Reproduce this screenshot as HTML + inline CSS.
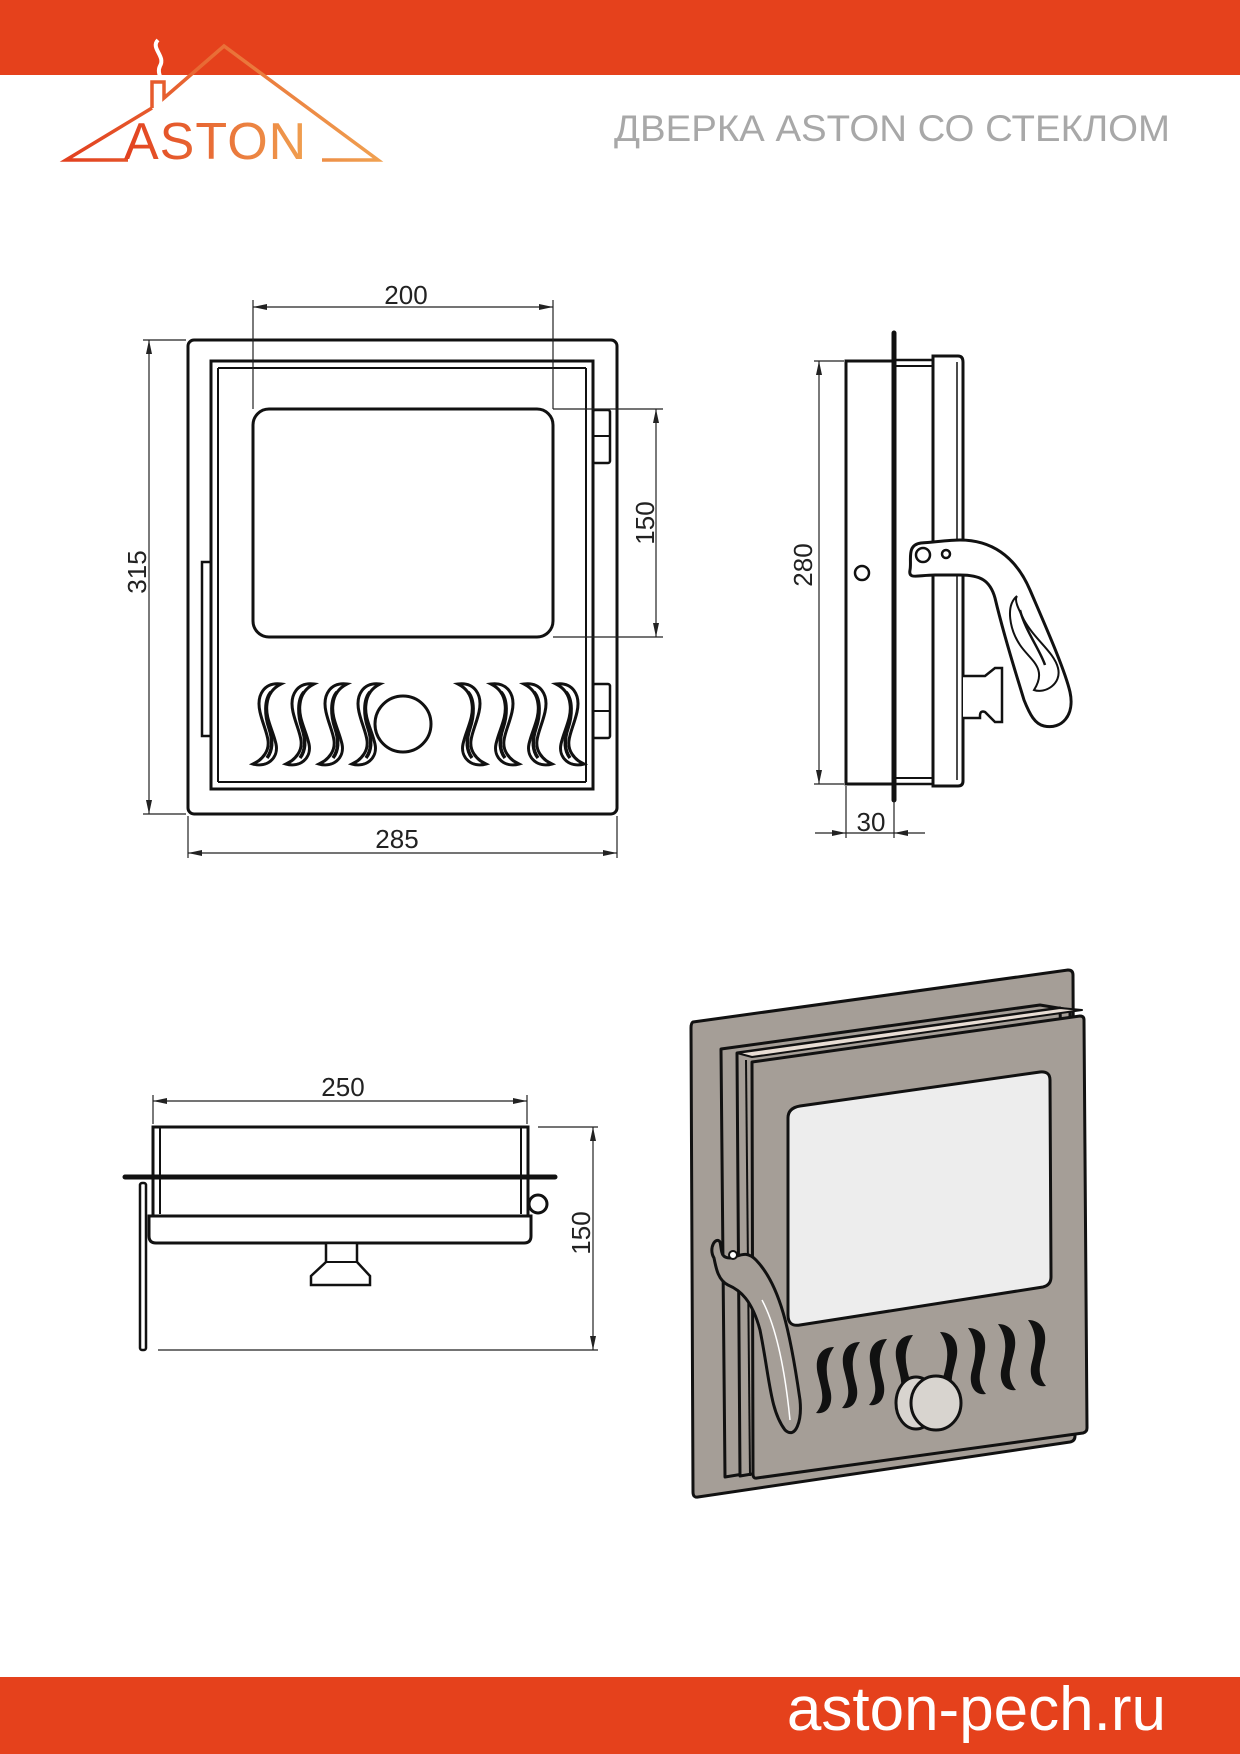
<!DOCTYPE html>
<html><head><meta charset="utf-8"><style>
html,body{margin:0;padding:0;background:#fff}
svg{display:block}
text{font-family:"Liberation Sans",sans-serif}
</style></head><body>
<svg width="1240" height="1754" viewBox="0 0 1240 1754" xmlns="http://www.w3.org/2000/svg">
<defs>
<linearGradient id="lg" x1="0" x2="1" y1="0" y2="0"><stop offset="0" stop-color="#e2401f"/><stop offset="1" stop-color="#f0a050"/></linearGradient>
<g id="fl">
<path d="M28,2 C12,0 3,12 7,30 C11,48 20,60 12,72 C8,78 4,80 0,82 C14,86 26,76 23,62 C20,48 12,36 14,22 C15,12 20,6 28,2 Z" fill="#fff" stroke="#111" stroke-width="3"/>
<path d="M18,10 C11,18 12,34 16,46 C20,58 20,68 14,76" fill="none" stroke="#111" stroke-width="3.5"/>
</g>
<g id="fl3">
<path d="M22,2 C8,2 2,14 6,30 C10,46 14,56 4,68 C16,70 22,58 18,44 C14,30 12,16 22,2 Z" fill="#111"/>
</g>
</defs>

<rect x="0" y="0" width="1240" height="75" fill="#e5411c"/>
<rect x="0" y="1677" width="1240" height="77" fill="#e5411c"/>
<text x="1166" y="1730" font-size="62" fill="#fff" text-anchor="end">aston-pech.ru</text>

<path d="M158,40 C150,48 166,56 160,66 C156,74 164,80 162,88" fill="none" stroke="#fff" stroke-width="4"/>
<path d="M152,108 L152,82 L164,82 L164,98 L224,46 L378,160 L322,160 M128,160 L66,160 L152,108" fill="none" stroke="url(#lg)" stroke-width="3.5"/>
<text x="124" y="159" font-size="52" fill="url(#lg)" letter-spacing="1">ASTON</text>

<text x="1170" y="141" font-size="37" fill="#a8a8a8" text-anchor="end" textLength="556" lengthAdjust="spacingAndGlyphs">ДВЕРКА ASTON СО СТЕКЛОМ</text>

<g fill="none" stroke="#111">
<rect x="188" y="340" width="429" height="474" rx="6" stroke-width="3"/>
<rect x="211" y="361" width="382" height="428" stroke-width="3"/>
<line x1="218" y1="368" x2="586" y2="368" stroke-width="2"/>
<line x1="218" y1="782" x2="586" y2="782" stroke-width="2"/>
<line x1="218" y1="368" x2="218" y2="782" stroke-width="2"/>
<line x1="586" y1="368" x2="586" y2="782" stroke-width="2"/>
<rect x="253" y="409" width="300" height="228" rx="16" stroke-width="3"/>
<rect x="593" y="410" width="17" height="53" rx="2" stroke-width="2.5"/>
<line x1="593" y1="436" x2="610" y2="436" stroke-width="2"/>
<rect x="593" y="684" width="17" height="54" rx="2" stroke-width="2.5"/>
<line x1="593" y1="711" x2="610" y2="711" stroke-width="2"/>
<rect x="202" y="562" width="9" height="174" stroke-width="2.5"/>
</g>
<use href="#fl" x="253" y="682"/>
<use href="#fl" x="286" y="682"/>
<use href="#fl" x="319" y="682"/>
<use href="#fl" x="352" y="682"/>
<use href="#fl" transform="translate(584,682) scale(-1,1)"/>
<use href="#fl" transform="translate(552,682) scale(-1,1)"/>
<use href="#fl" transform="translate(519,682) scale(-1,1)"/>
<use href="#fl" transform="translate(486,682) scale(-1,1)"/>
<circle cx="403" cy="724" r="28" fill="#fff" stroke="#111" stroke-width="3"/>

<g stroke="#222" stroke-width="1.2" fill="none">
<line x1="253" y1="300" x2="253" y2="409"/><line x1="553" y1="300" x2="553" y2="409"/>
<line x1="253" y1="307" x2="553" y2="307"/>
<line x1="143" y1="340" x2="186" y2="340"/><line x1="143" y1="814" x2="186" y2="814"/>
<line x1="149" y1="340" x2="149" y2="814"/>
<line x1="188" y1="816" x2="188" y2="858"/><line x1="617" y1="816" x2="617" y2="858"/>
<line x1="188" y1="853" x2="617" y2="853"/>
<line x1="553" y1="409" x2="663" y2="409"/><line x1="553" y1="637" x2="663" y2="637"/>
<line x1="656" y1="409" x2="656" y2="637"/>
</g>
<g fill="#222">
<path d="M253,307 l14,-3 v6z"/><path d="M553,307 l-14,-3 v6z"/>
<path d="M149,340 l-3,14 h6z"/><path d="M149,814 l-3,-14 h6z"/>
<path d="M188,853 l14,-3 v6z"/><path d="M617,853 l-14,-3 v6z"/>
<path d="M656,409 l-3,14 h6z"/><path d="M656,637 l-3,-14 h6z"/>
</g>
<g font-size="26" fill="#222">
<text x="406" y="304" text-anchor="middle">200</text>
<text x="397" y="848" text-anchor="middle">285</text>
<text transform="translate(146,572) rotate(-90)" text-anchor="middle">315</text>
<text transform="translate(654,523) rotate(-90)" text-anchor="middle">150</text>
</g>

<!-- SIDE VIEW -->
<g fill="none" stroke="#111">
<rect x="846" y="361" width="48" height="423" stroke-width="3"/>
<line x1="894" y1="360" x2="934" y2="360" stroke-width="2.5"/>
<line x1="894" y1="366" x2="934" y2="366" stroke-width="2"/>
<line x1="894" y1="778" x2="934" y2="778" stroke-width="2"/>
<line x1="894" y1="784" x2="934" y2="784" stroke-width="2.5"/>
<path d="M933,356 H958 Q963,356 963,362 V781 Q963,786 958,786 H933 Z" stroke-width="3"/>
<line x1="957" y1="362" x2="957" y2="780" stroke-width="1.5"/>
<circle cx="862" cy="573" r="7" stroke-width="2.5"/>
<path d="M963,676 H985 L995,668 H1002 V722 H995 L985,712 Q980,710 980,716 V718 H963" fill="#fff" stroke-width="2.5"/>
<path d="M910,570 C912,560 906,545 921,543 C935,542 950,540 960,540 C990,540 1015,555 1030,590 C1045,625 1065,670 1070,692 C1075,715 1062,730 1044,726 C1035,724 1030,715 1024,700 C1015,670 1005,640 995,598 C990,580 980,575 960,575 H935 C918,575 908,580 910,570 Z" fill="#fff" stroke-width="3"/>
<circle cx="923" cy="555" r="7" stroke-width="2.5"/>
<circle cx="946" cy="554" r="4" stroke-width="2.5"/>
<path d="M1017,596 C1005,606 1010,630 1020,645 C1030,660 1048,668 1034,690 C1045,694 1062,684 1058,668 C1054,652 1035,640 1024,620 C1018,608 1014,600 1017,596 Z" stroke-width="2"/>
<path d="M1020,610 C1025,630 1040,650 1045,665" stroke-width="2.5"/>
</g>
<line x1="894" y1="333" x2="894" y2="800" stroke="#111" stroke-width="5" stroke-linecap="round"/>
<g stroke="#222" stroke-width="1.2" fill="none">
<line x1="814" y1="361" x2="844" y2="361"/><line x1="814" y1="784" x2="844" y2="784"/>
<line x1="819" y1="361" x2="819" y2="784"/>
<line x1="846" y1="786" x2="846" y2="838"/><line x1="894" y1="800" x2="894" y2="838"/>
<line x1="815" y1="833" x2="925" y2="833"/>
</g>
<g fill="#222">
<path d="M819,361 l-3,14 h6z"/><path d="M819,784 l-3,-14 h6z"/>
<path d="M846,833 l-14,-3 v6z"/><path d="M894,833 l14,-3 v6z"/>
</g>
<g font-size="26" fill="#222">
<text transform="translate(812,565) rotate(-90)" text-anchor="middle">280</text>
<text x="871" y="831" text-anchor="middle">30</text>
</g>

<!-- TOP VIEW -->
<g fill="none" stroke="#111">
<rect x="153" y="1127" width="375" height="89" stroke-width="3"/>
<line x1="160" y1="1127" x2="160" y2="1214" stroke-width="2"/>
<line x1="521" y1="1127" x2="521" y2="1214" stroke-width="2"/>
<path d="M149,1216 H531 V1236 Q531,1243 524,1243 H156 Q149,1243 149,1236 Z" fill="#fff" stroke-width="3"/>
<path d="M326,1243 H357 V1262 L370,1276 V1285 H311 V1276 L326,1262 Z" fill="#fff" stroke-width="2.5"/>
<line x1="326" y1="1262" x2="357" y2="1262" stroke-width="2"/>
<rect x="140" y="1183" width="6" height="167" rx="2" stroke-width="2.5"/>
<circle cx="538" cy="1204" r="9" fill="#fff" stroke-width="3"/>
</g>
<line x1="125" y1="1177" x2="555" y2="1177" stroke="#111" stroke-width="5" stroke-linecap="round"/>
<g stroke="#222" stroke-width="1.2" fill="none">
<line x1="153" y1="1095" x2="153" y2="1124"/><line x1="527" y1="1095" x2="527" y2="1124"/>
<line x1="153" y1="1101" x2="527" y2="1101"/>
<line x1="538" y1="1127" x2="598" y2="1127"/><line x1="158" y1="1350" x2="598" y2="1350"/>
<line x1="593" y1="1127" x2="593" y2="1350"/>
</g>
<g fill="#222">
<path d="M153,1101 l14,-3 v6z"/><path d="M527,1101 l-14,-3 v6z"/>
<path d="M593,1127 l-3,14 h6z"/><path d="M593,1350 l-3,-14 h6z"/>
</g>
<g font-size="26" fill="#222">
<text x="343" y="1096" text-anchor="middle">250</text>
<text transform="translate(590,1233) rotate(-90)" text-anchor="middle">150</text>
</g>

<!-- 3D VIEW -->
<g stroke="#111" stroke-width="3" stroke-linejoin="round">
<path d="M693,1022 L1068,970 Q1073,970 1073,975 L1075,1436 Q1075,1441 1070,1442 L698,1497 Q693,1498 693,1492 L691,1028 Q691,1023 693,1022 Z" fill="#a59e97"/>
<path d="M721,1049 L1040,1005 L1070,1010 L1072,1420 L725,1477 Z" fill="#a59e97"/>
<path d="M737,1053 L1060,1008 L1072,1420 L740,1476 Z" fill="#a59e97"/>
<path d="M737,1053 L1060,1008 L1082,1010 L752,1057 Z" fill="#e8ddd4" stroke-width="2"/>
<path d="M752,1062 L1080,1016 Q1084,1016 1084,1020 L1087,1428 Q1087,1432 1083,1433 L757,1478 Q753,1479 753,1474 Z" fill="#a59e97"/>
<line x1="746" y1="1060" x2="750" y2="1476" stroke-width="2"/>
<path d="M800,1106 L1040,1072 Q1050,1071 1050,1080 L1051,1277 Q1051,1285 1043,1287 L800,1325 Q788,1327 788,1315 L788,1118 Q788,1108 800,1106 Z" fill="#ededed"/>
</g>
<g fill="#111">
<use href="#fl3" x="812" y="1345"/>
<use href="#fl3" x="838" y="1340"/>
<use href="#fl3" x="865" y="1337"/>
<use href="#fl3" x="891" y="1333"/>
<use href="#fl3" transform="translate(962,1330) scale(-1,1)"/>
<use href="#fl3" transform="translate(990,1326) scale(-1,1)"/>
<use href="#fl3" transform="translate(1020,1322) scale(-1,1)"/>
<use href="#fl3" transform="translate(1050,1318) scale(-1,1)"/>
</g>
<ellipse cx="916" cy="1403" rx="20" ry="26" fill="#d8d4cf" stroke="#111" stroke-width="3"/>
<ellipse cx="936" cy="1403" rx="25" ry="27" fill="#d8d4cf" stroke="#111" stroke-width="3"/>
<path d="M714,1258 C708,1248 716,1236 720,1242 C722,1250 720,1258 730,1258 C740,1256 746,1250 756,1260 C780,1285 790,1330 800,1400 C802,1420 796,1440 785,1430 C770,1410 770,1380 760,1330 C752,1300 740,1290 728,1285 C718,1280 716,1268 714,1258 Z" fill="#a59e97" stroke="#111" stroke-width="3"/>
<circle cx="733" cy="1255" r="4" fill="#fff" stroke="#111" stroke-width="2"/>
<path d="M762,1300 C778,1330 786,1380 790,1420" fill="none" stroke="#fff" stroke-width="1.5"/>
</svg>
</body></html>
